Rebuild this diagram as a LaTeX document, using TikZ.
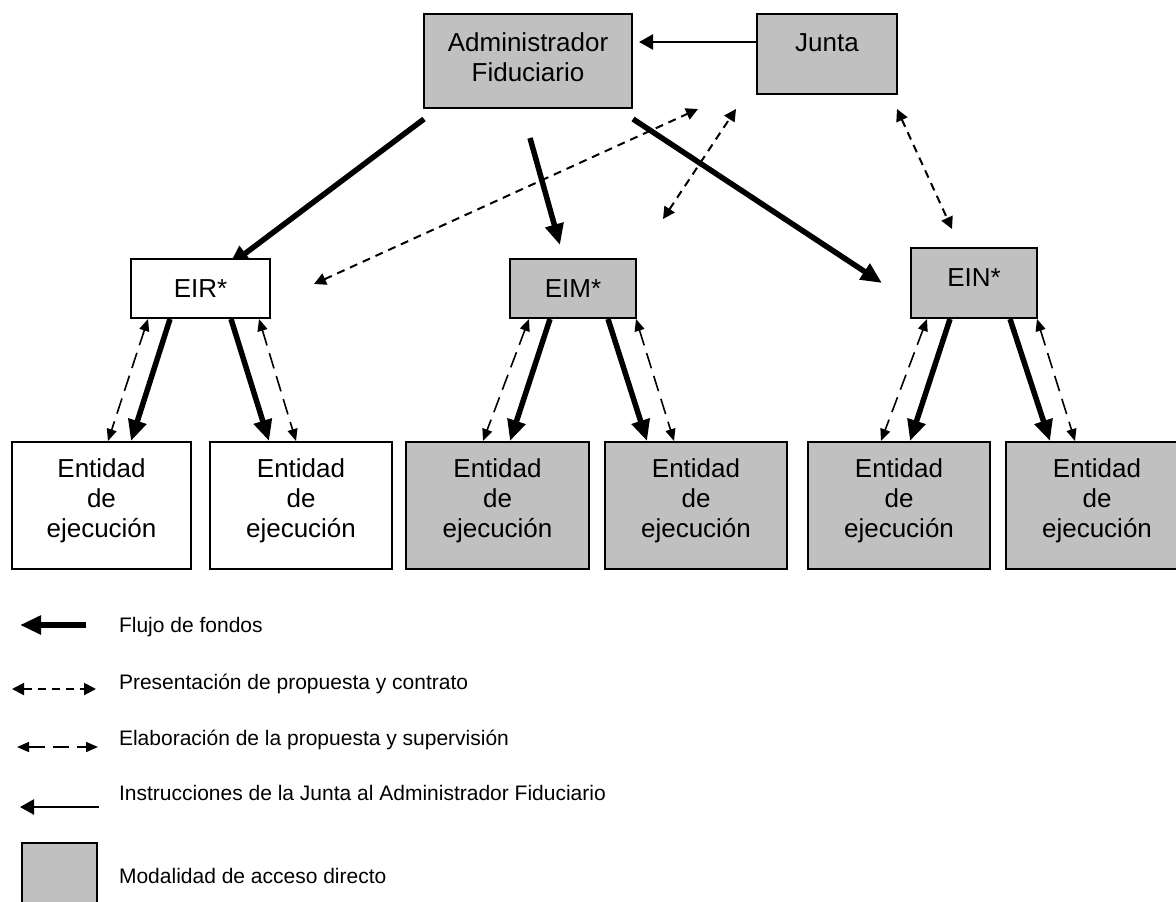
\documentclass[tikz,border=0pt]{standalone}
\usepackage{fontspec}
\setmainfont{Liberation Sans}
\usetikzlibrary{arrows.meta,calc,backgrounds}
\definecolor{boxgray}{HTML}{C0C0C0}

\begin{document}
\begin{tikzpicture}[
  x=0.5pt, y=-0.5pt,
  box/.style={rectangle, draw=black, line width=1pt, fill=white, inner sep=0pt,
              align=center, font=\fontsize{13}{15}\selectfont},
  gbox/.style={box, fill=boxgray},
  ent/.style={minimum height=63.5pt, text depth=7.2pt},
  fondos/.style={-{Triangle[length=10.5pt,width=9pt]}, line width=2.75pt},
  prop/.style={{Triangle[length=6pt,width=6pt]}-{Triangle[length=6pt,width=6pt]},
               line width=1pt, dash pattern=on 4pt off 3pt},
  elab/.style={{Triangle[length=6pt,width=5pt]}-{Triangle[length=6pt,width=5pt]},
               line width=0.8pt, dash pattern=on 8pt off 4pt},
  instr/.style={-{Triangle[length=7pt,width=7.5pt]}, line width=1.2pt},
  legtxt/.style={anchor=base west, font=\fontsize{10.5}{12.6}\selectfont}
]
\useasboundingbox (0,0) rectangle (1176,901);

%--- Top level ---
\node[gbox, minimum width=104pt, minimum height=47pt, text depth=4.3pt] (AF) at (528,61) {Administrador\\Fiduciario};
\node[gbox, minimum width=70pt, minimum height=40pt, text height=9.3pt, text depth=12.3pt] (Junta) at (827,54) {Junta};

%--- Intermediate entities ---
\node[box, minimum width=69.5pt, minimum height=29.5pt] (EIR) at (200.5,288.5) {EIR*};
\node[gbox, minimum width=63pt, minimum height=29.5pt] (EIM) at (573,288.5) {EIM*};
\node[gbox, minimum width=63pt, minimum height=35pt, text height=9.3pt, text depth=6.3pt] (EIN) at (974,283) {EIN*};

%--- Executing entities ---
\node[box, ent, minimum width=89.5pt] (E1) at (101.5,505.5) {Entidad\\de\\ejecución};
\node[box, ent, minimum width=91pt] (E2) at (301,505.5) {Entidad\\de\\ejecución};
\node[gbox, ent, minimum width=91.5pt] (E3) at (497.5,505.5) {Entidad\\de\\ejecución};
\node[gbox, ent, minimum width=91pt] (E4) at (696,505.5) {Entidad\\de\\ejecución};
\node[gbox, ent, minimum width=91pt] (E5) at (899,505.5) {Entidad\\de\\ejecución};
\node[gbox, ent, minimum width=91pt] (E6) at (1097,505.5) {Entidad\\de\\ejecución};

%--- Junta -> Administrador ---
\draw[instr] ($(Junta.west)+(0,-12)$) -- ($(AF.east)+(6,-19)$);

%--- Funds from the trustee ---
\begin{scope}[on background layer]
\draw[fondos] ($(AF.south west)+(1,10)$) -- ($(EIR.north)+(28,8)$);
\end{scope}
\draw[fondos] ($(AF.south)+(2,29)$) -- ($(EIM.north)+(-13,-13)$);
\draw[fondos] ($(AF.south east)+(0,10)$) -- ($(EIN.west)+(-28,0)$);

%--- Proposals and contracts ---
\draw[prop] ($(EIR.east)+(43,-4.5)$) -- ($(Junta.south west)+(-58,14)$);
\draw[prop] ($(EIM.north east)+(26,-39)$) -- ($(Junta.south west)+(-20,14)$);
\draw[prop] ($(Junta.south east)+(-1,14)$) -- ($(EIN.north)+(-22,-18)$);

%--- EIR to its entities ---
\draw[elab] ($(EIR.south west)+(18,0)$) -- ($(E1.north west)+(97,0)$);
\draw[fondos] ($(EIR.south west)+(40,0)$) -- ($(E1.north west)+(120,0)$);
\draw[fondos] ($(EIR.south east)+(-40,0)$) -- ($(E2.north west)+(60,0)$);
\draw[elab] ($(EIR.south east)+(-12,0)$) -- ($(E2.north west)+(87,0)$);

%--- EIM to its entities ---
\draw[elab] ($(EIM.south west)+(20,0)$) -- ($(E3.north west)+(78,0)$);
\draw[fondos] ($(EIM.south west)+(41,0)$) -- ($(E3.north west)+(105,0)$);
\draw[fondos] ($(EIM.south east)+(-29,0)$) -- ($(E4.north west)+(43,0)$);
\draw[elab] ($(EIM.south east)+(-1,0)$) -- ($(E4.north west)+(70,0)$);

%--- EIN to its entities ---
\draw[elab] ($(EIN.south west)+(17,0)$) -- ($(E5.north west)+(74,0)$);
\draw[fondos] ($(EIN.south west)+(40,0)$) -- ($(E5.north west)+(103,0)$);
\draw[fondos] ($(EIN.south east)+(-28,0)$) -- ($(E6.north west)+(45,0)$);
\draw[elab] ($(EIN.south east)+(-1,0)$) -- ($(E6.north west)+(70,0)$);

%--- Legend ---
\coordinate (fondosA) at (86,625);  \coordinate (fondosB) at (20,625);
\coordinate (propA) at (12,689);    \coordinate (propB) at (96,689);
\coordinate (elabA) at (17,747);    \coordinate (elabB) at (98,747);
\coordinate (instrA) at (99,807);   \coordinate (instrB) at (20,807);
\draw[fondos] (fondosA) -- (fondosB);
\draw[prop] (propA) -- (propB);
\draw[elab] (elabA) -- (elabB);
\draw[instr] (instrA) -- (instrB);
\node[gbox, minimum width=37.5pt, minimum height=33.5pt] (legGris) at (59.5,876.5) {};

\node[legtxt] (tFondos) at (112,632.5) {Flujo de fondos};
\node[legtxt] (tProp) at (112,689.5) {Presentación de propuesta y contrato};
\node[legtxt] (tElab) at (112,745.5) {Elaboración de la propuesta y supervisión};
\node[legtxt] (tInstr) at (112,800.5) {Instrucciones de la Junta al Administrador Fiduciario};
\node[legtxt] (tGris) at (112,883.5) {Modalidad de acceso directo};

\end{tikzpicture}
\end{document}
